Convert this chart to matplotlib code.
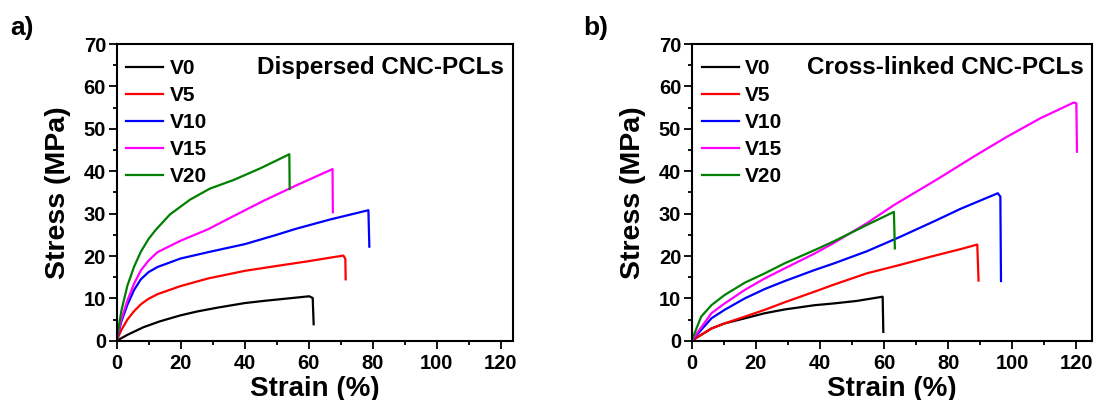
import matplotlib
matplotlib.use("Agg")
import matplotlib.pyplot as plt
from matplotlib.ticker import MultipleLocator

plt.rcParams['font.family'] = ['Liberation Sans', 'DejaVu Sans']
plt.rcParams['font.weight'] = 'bold'

LABELS = ['V0', 'V5', 'V10', 'V15', 'V20']
COLORS = ['black', '#ff0000', '#0000ff', '#ff00ff', '#008000']

# panel a) dispersed CNC-PCLs  (strain %, stress MPa)
a_v0_x = [0, 1.5, 3.4, 8.4, 13.6, 20.0, 25.1, 31.4, 40.1, 45.9, 53.7, 60.2, 61.3, 61.6]
a_v0_y = [0, 0.6, 1.4, 3.2, 4.6, 6.0, 6.9, 7.8, 8.9, 9.4, 10.0, 10.5, 10.1, 3.9]
a_v5_x = [0, 1.5, 3.4, 5.5, 7.6, 10.0, 12.8, 20.0, 28.6, 40.1, 49.6, 60.2, 66.7, 70.9, 71.5, 71.6]
a_v5_y = [0, 2.5, 5.0, 7.0, 8.6, 9.9, 11.0, 12.9, 14.7, 16.5, 17.6, 18.8, 19.6, 20.1, 19.3, 14.5]
a_v10_x = [0, 1.5, 3.4, 5.5, 7.6, 10.0, 12.8, 20.0, 28.6, 40.1, 49.6, 56.0, 66.7, 78.7, 79.0]
a_v10_y = [0, 4.5, 8.5, 12.0, 14.5, 16.2, 17.4, 19.4, 20.9, 22.8, 24.9, 26.4, 28.6, 30.8, 22.2]
a_v15_x = [0, 1.5, 3.4, 5.5, 7.6, 10.0, 12.8, 20.0, 28.6, 35.5, 45.9, 56.3, 67.5, 67.6]
a_v15_y = [0, 5.0, 9.5, 13.5, 16.6, 18.9, 20.9, 23.6, 26.3, 29.0, 33.0, 36.7, 40.5, 30.3]
a_v20_x = [0, 1.5, 3.4, 5.5, 7.6, 10.0, 12.3, 16.7, 23.0, 29.2, 36.5, 45.0, 54.0, 54.1]
a_v20_y = [0, 7.0, 13.0, 17.5, 21.0, 24.0, 26.2, 29.8, 33.3, 35.9, 37.9, 40.7, 44.0, 35.8]

# panel b) cross-linked CNC-PCLs
b_v0_x = [0, 6.2, 10.3, 16.6, 22.8, 29.1, 38.4, 44.2, 51.5, 59.6, 59.8]
b_v0_y = [0, 2.9, 4.1, 5.3, 6.5, 7.4, 8.4, 8.8, 9.4, 10.4, 2.1]
b_v5_x = [0, 6.2, 10.3, 16.6, 22.8, 29.1, 38.4, 44.2, 54.6, 65.0, 75.4, 83.8, 89.1, 89.5]
b_v5_y = [0, 2.9, 4.1, 5.7, 7.3, 9.1, 11.6, 13.2, 15.9, 17.9, 20.0, 21.6, 22.7, 14.2]
b_v10_x = [0, 6.2, 10.3, 16.6, 22.8, 29.1, 38.4, 44.2, 54.6, 65.0, 75.4, 83.8, 95.5, 96.3, 96.5]
b_v10_y = [0, 5.3, 7.3, 10.0, 12.2, 14.1, 16.7, 18.2, 21.1, 24.5, 28.1, 31.1, 34.8, 34.0, 14.1]
b_v15_x = [0, 6.2, 10.3, 16.6, 22.8, 29.1, 38.4, 44.2, 54.6, 63.1, 77.5, 87.9, 98.3, 108.8, 119.2, 120.0, 120.2]
b_v15_y = [0, 6.5, 8.8, 12.0, 14.7, 17.1, 20.6, 23.0, 27.7, 32.0, 38.5, 43.4, 48.1, 52.5, 56.2, 56.0, 44.6]
b_v20_x = [0, 3.0, 6.2, 10.3, 16.6, 22.8, 29.1, 38.4, 44.2, 54.6, 63.1, 63.4]
b_v20_y = [0, 5.7, 8.4, 10.8, 13.7, 15.9, 18.3, 21.4, 23.4, 27.3, 30.4, 21.8]


def draw(ax, xs, ys, title, xmax):
    for x, y, lab, c in zip(xs, ys, LABELS, COLORS):
        ax.plot(x, y, color=c, lw=1.6, label=lab)
    ax.set_xlim(0, xmax)
    ax.set_ylim(0, 70)
    ax.xaxis.set_major_locator(MultipleLocator(20))
    ax.xaxis.set_minor_locator(MultipleLocator(10))
    ax.yaxis.set_major_locator(MultipleLocator(10))
    ax.yaxis.set_minor_locator(MultipleLocator(5))
    ax.tick_params(which='major', direction='out', length=5.5, width=1.3, labelsize=14.5)
    ax.tick_params(which='minor', direction='out', length=3, width=1.3)
    ax.tick_params(axis='x', which='major', pad=4)
    ax.tick_params(axis='y', which='major', pad=2)
    for s in ax.spines.values():
        s.set_linewidth(1.5)
    ax.set_xlabel('Strain (%)', fontsize=20, fontweight='bold', labelpad=2)
    ax.set_ylabel('Stress (MPa)', fontsize=20.5, fontweight='bold', labelpad=9)
    ax.legend(loc='upper left', bbox_to_anchor=(0.025, 0.95), frameon=False,
              fontsize=15, handlelength=1.78, handletextpad=0.3,
              labelspacing=0.39, borderpad=0, borderaxespad=0)
    ax.text(0.978, 0.922, title, transform=ax.transAxes, ha='right', va='center',
            fontsize=17.5, fontweight='bold')


fig = plt.figure(figsize=(10.97, 4.0), dpi=100)
ax1 = fig.add_axes([0.1062, 0.148, 0.3612, 0.742])
ax2 = fig.add_axes([0.6304, 0.148, 0.3654, 0.742])

draw(ax1, [a_v0_x, a_v5_x, a_v10_x, a_v15_x, a_v20_x],
     [a_v0_y, a_v5_y, a_v10_y, a_v15_y, a_v20_y], 'Dispersed CNC-PCLs', 123.8)
draw(ax2, [b_v0_x, b_v5_x, b_v10_x, b_v15_x, b_v20_x],
     [b_v0_y, b_v5_y, b_v10_y, b_v15_y, b_v20_y], 'Cross-linked CNC-PCLs', 125)

fig.text(0.009, 0.96, 'a)', fontsize=19, fontweight='bold', va='top')
fig.text(0.532, 0.96, 'b)', fontsize=19, fontweight='bold', va='top')

fig.savefig('out.png', dpi=100)
